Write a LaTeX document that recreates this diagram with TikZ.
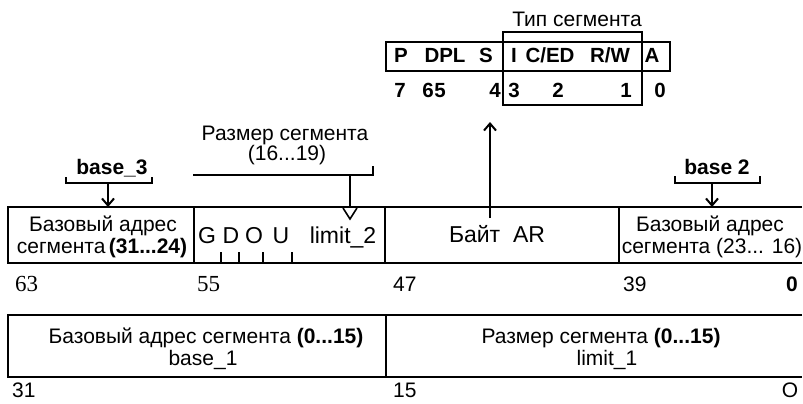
\documentclass[tikz,border=0pt]{standalone}
\usepackage{fontspec}
\setmainfont{Liberation Sans}
\newfontfamily\serifnum{Liberation Serif}
\usetikzlibrary{arrows.meta}
\newcommand\fBase{\fontsize{21}{23}\selectfont}
\newcommand\fTop{\fontsize{20.5}{22}\selectfont\bfseries}
\newcommand\fBig{\fontsize{23}{25}\selectfont}
\begin{document}
\begin{tikzpicture}[x=1pt,y=-1pt,
  txt/.style={inner sep=0pt,anchor=base,font=\fBase},
  toptxt/.style={inner sep=0pt,anchor=base,font=\fTop},
  bigtxt/.style={inner sep=0pt,anchor=base,font=\fBig},
  num/.style={inner sep=0pt,anchor=base west,font=\fBase},
  frame/.style={line width=2.6pt},
  thin/.style={line width=1.6pt},
  brk/.style={line width=2pt},
  arr/.style={line width=2pt,-{Straight Barb[length=7pt,width=12pt,line width=2pt]}}]
\useasboundingbox (0,0) rectangle (803,404);

% ---------- top byte AR ----------
\draw[line width=2.2pt] (386,42) rectangle (670,71);
\draw[line width=2.2pt] (503,32) rectangle (642,105);
\node[txt] (tiptitle) at (577,27) {Тип сегмента};
\node[toptxt] (P) at (401,63) {P};
\node[toptxt] (DPL) at (445,63) {DPL};
\node[toptxt] (S) at (486,63) {S};
\node[toptxt] (I) at (514,63) {I};
\node[toptxt] (CED) at (550,63) {C/ED};
\node[toptxt] (RW) at (610,63) {R/W};
\node[toptxt] (A) at (652,63) {A};
\node[toptxt] (n7) at (400,97) {7};
\node[toptxt] (n6) at (428,97) {6};
\node[toptxt] (n5) at (440,97) {5};
\node[toptxt] (n4) at (495,97) {4};
\node[toptxt] (n3) at (514,97) {3};
\node[toptxt] (n2) at (558,97) {2};
\node[toptxt] (n1) at (626,97) {1};
\node[toptxt] (n0) at (660,97) {0};

% ---------- middle row ----------
\draw[frame] (802,207) -- (8,207) -- (8,263) -- (802,263);
\draw[frame] (194,207) -- (194,263);
\draw[frame] (385,207) -- (385,263);
\draw[frame] (619,207) -- (619,263);

\node[txt] (b3a) at (103,231) {Базовый адрес};
\node[txt] (b3b) at (102,253) {сегмента\,\textbf{(31...24)}};
\node[bigtxt] (G) at (207,243) {G};
\node[bigtxt] (D) at (231,243) {D};
\node[bigtxt] (O) at (254,243) {O};
\node[bigtxt] (U) at (281,243) {U};
\node[bigtxt] (lim2) at (343,243) {limit\_2};
\foreach \x in {221,239,263,292}{\draw[thin] (\x,252) -- (\x,263);}
\node[bigtxt] (ar) at (497,242) {Байт\ \ AR};
\node[txt] (b2a) at (710,231) {Базовый адрес};
\node[txt] (b2b) at (712,253) {сегмента (23... 16)};

\node[num,font=\fontsize{23}{25}\selectfont\serifnum] (m63) at (15,291) {63};
\node[num,font=\fontsize{23}{25}\selectfont\serifnum] (m55) at (197,291) {55};
\node[num] (m47) at (393,291) {47};
\node[num] (m39) at (623,291) {39};
\node[txt,font=\fBase\bfseries] (m0) at (792,291) {0};

% ---------- bottom row ----------
\draw[frame] (802,315) -- (8,315) -- (8,377) -- (802,377);
\draw[thin] (386,315) -- (386,377);
\node[txt] (c1a) at (206,343) {Базовый адрес сегмента \textbf{(0...15)}};
\node[txt] (c1b) at (203,365) {base\_1};
\node[txt] (c2a) at (601,343) {Размер сегмента \textbf{(0...15)}};
\node[txt] (c2b) at (607,365) {limit\_1};
\node[num] (l31) at (12,397) {31};
\node[num] (l15) at (393,397) {15};
\node[txt] (l0) at (790,397) {O};

% ---------- base_3 ----------
\node[txt,font=\fBase\bfseries] (base3) at (112,174) {base\_3};
\draw[brk] (66,177) -- (66,183) -- (152,183) -- (152,177);
\coordinate (b3s) at (108,183);
\coordinate (b3e) at (108,207);
\draw[arr] (b3s) -- (b3e);

% ---------- base 2 ----------
\node[txt,font=\fBase\bfseries] (base2) at (717,174) {base 2};
\draw[brk] (675,176) -- (675,183) -- (760,183) -- (760,176);
\coordinate (b2s) at (712,183);
\coordinate (b2e) at (712,207);
\draw[arr] (b2s) -- (b2e);

% ---------- size 16..19 ----------
\node[txt] (sz1) at (285,140) {Размер сегмента};
\node[txt] (sz2) at (287,160) {(16...19)};
\draw[brk] (193,175) -- (373,175) -- (373,166);
\coordinate (szs) at (350,175);
\coordinate (sze) at (350,207);
\draw[brk] (szs) -- (sze);
\draw[line width=1.6pt] (343,208) -- (350,219) -- (357,208);

% ---------- AR arrow ----------
\coordinate (ars) at (490,218);
\coordinate (are) at (490,122);
\draw[arr] (ars) -- (are);
\end{tikzpicture}
\end{document}
